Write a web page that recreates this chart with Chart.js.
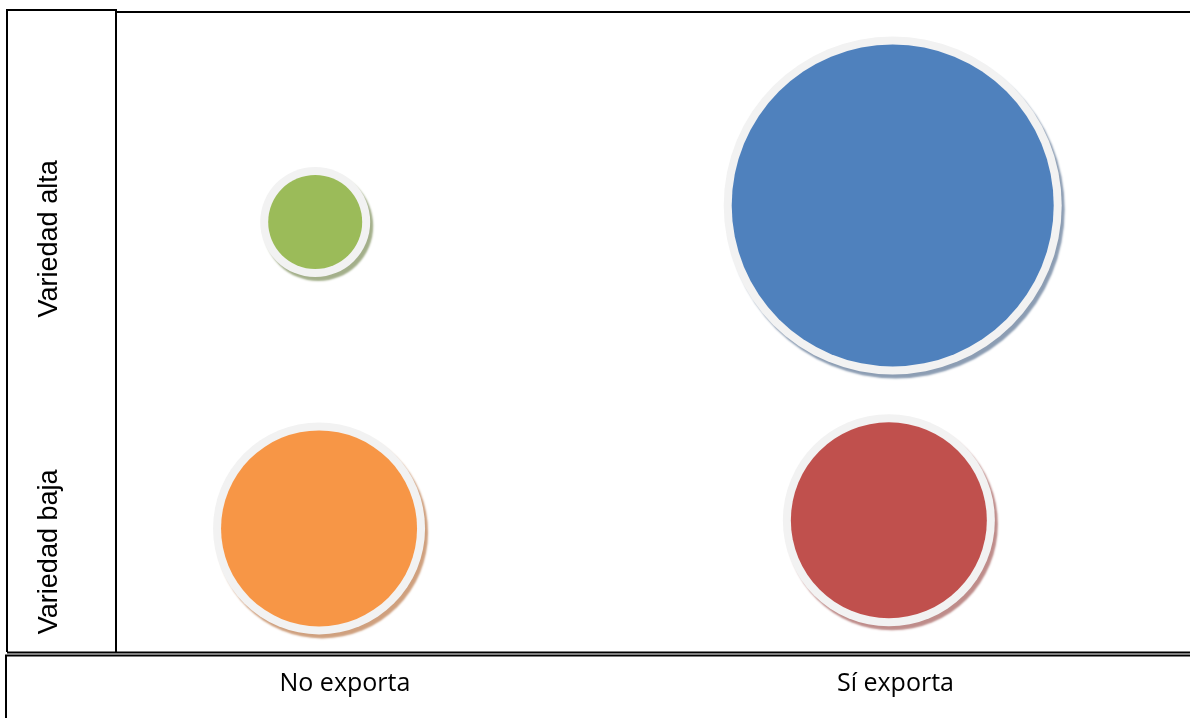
<!DOCTYPE html>
<html>
<head>
<meta charset="utf-8">
<script src="https://cdn.jsdelivr.net/npm/chart.js@4/dist/chart.umd.min.js"></script>
<style>
  html, body { margin: 0; padding: 0; background: #fff; }
  #wrap { width: 1190px; height: 718px; position: relative; }
</style>
</head>
<body>
<div id="wrap"><canvas id="bubbleChart"></canvas></div>
<script>
// categories
const exportLabels = ['No exporta', 'Sí exporta'];   // x = 1, 2
const varietyLabels = ['Variedad baja', 'Variedad alta']; // y = 1, 2

// one bubble per quadrant
const seriesNames = ['No exporta / alta', 'Sí exporta / alta', 'No exporta / baja', 'Sí exporta / baja'];
const seriesX = [0.946, 1.995, 0.953, 1.988];
const seriesY = [2.054, 2.107, 1.075, 1.101];
const seriesR = [51, 165, 102, 102];

const fillColors = ['#9BBB59', '#4F81BD', '#F79646', '#C0504D'];
const shadowColors = ['#A3AF8A', '#8C9DB3', '#CFA07E', '#BE8C8A'];
const ringColor = '#F2F2F2';
const ringHalf = 4;

const datasets = [];
for (let i = 0; i < seriesNames.length; i++) {
  // coloured bubble on top
  datasets.push({
    label: seriesNames[i],
    order: 0,
    data: [{x: seriesX[i], y: seriesY[i], r: seriesR[i] - ringHalf}],
    backgroundColor: fillColors[i],
    borderWidth: 0,
    hoverBorderWidth: 0,
  });
  // light ring + shadow underneath
  datasets.push({
    label: seriesNames[i] + ' (borde)',
    order: 1,
    data: [{x: seriesX[i], y: seriesY[i], r: seriesR[i] + ringHalf}],
    backgroundColor: ringColor,
    borderWidth: 0,
    hoverBorderWidth: 0,
    shadowColor: shadowColors[i],
  });
}

// soft offset shadow under the ring discs
const shadowPlugin = {
  id: 'shadow',
  beforeDatasetDraw(chart, args) {
    const ctx = chart.ctx;
    ctx.save();
    const c = args.meta._dataset.shadowColor;
    if (c) {
      ctx.shadowColor = c;
      ctx.shadowOffsetX = 3;
      ctx.shadowOffsetY = 4;
      ctx.shadowBlur = 2;
    }
  },
  afterDatasetDraw(chart) {
    chart.ctx.restore();
  }
};

// table-like frame and the rotated row labels
const framePlugin = {
  id: 'frame',
  beforeDraw(chart) {
    const ctx = chart.ctx;
    const area = chart.chartArea;
    ctx.save();
    ctx.fillStyle = '#fff';
    ctx.fillRect(0, 0, chart.width, chart.height);
    ctx.strokeStyle = '#000';
    ctx.lineWidth = 2;
    ctx.beginPath();
    // left label column
    ctx.moveTo(7, area.bottom);
    ctx.lineTo(7, 10);
    ctx.lineTo(area.left - 1, 10);
    ctx.lineTo(area.left - 1, area.bottom);
    // plot cell top
    ctx.moveTo(area.left - 1, 12);
    ctx.lineTo(chart.width, 12);
    // row bottom
    ctx.moveTo(7, area.bottom + 0.5);
    ctx.lineTo(chart.width, area.bottom + 0.5);
    ctx.stroke();
    // bottom label row
    ctx.beginPath();
    ctx.moveTo(chart.width, area.bottom + 3.5);
    ctx.lineTo(6, area.bottom + 3.5);
    ctx.lineTo(6, chart.height);
    ctx.stroke();
    ctx.restore();
  },
  afterDraw(chart) {
    const ctx = chart.ctx;
    const yScale = chart.scales.y;
    ctx.save();
    ctx.fillStyle = '#000';
    ctx.font = '27px "Liberation Sans", Arial, sans-serif';
    ctx.textAlign = 'center';
    ctx.textBaseline = 'alphabetic';
    varietyLabels.forEach((label, i) => {
      const py = yScale.getPixelForValue(i + 1);
      ctx.save();
      ctx.translate(57, py);
      ctx.rotate(-Math.PI / 2);
      ctx.fillText(label, 0, 0);
      ctx.restore();
    });
    ctx.restore();
  }
};

new Chart(document.getElementById('bubbleChart'), {
  type: 'bubble',
  data: { datasets },
  plugins: [framePlugin, shadowPlugin],
  options: {
    responsive: true,
    maintainAspectRatio: false,
    animation: false,
    layout: {
      autoPadding: false,
      padding: { left: 117, top: 12, right: 0, bottom: 0 }
    },
    plugins: {
      legend: { display: false },
      tooltip: { enabled: false }
    },
    scales: {
      x: {
        type: 'linear',
        min: 0.586,
        max: 2.535,
        grid: { display: false, drawTicks: false },
        border: { display: false },
        afterBuildTicks: (scale) => {
          scale.ticks = exportLabels.map((l, i) => ({ value: i + 1 }));
        },
        afterFit: (scale) => { scale.height = 66; },
        ticks: {
          padding: 17,
          color: '#000',
          font: { family: '"Open Sans", sans-serif', size: 25 },
          callback: (v) => exportLabels[Math.round(v) - 1]
        }
      },
      y: {
        type: 'linear',
        display: false,
        min: 0.68,
        max: 2.725
      }
    }
  }
});
</script>
</body>
</html>
